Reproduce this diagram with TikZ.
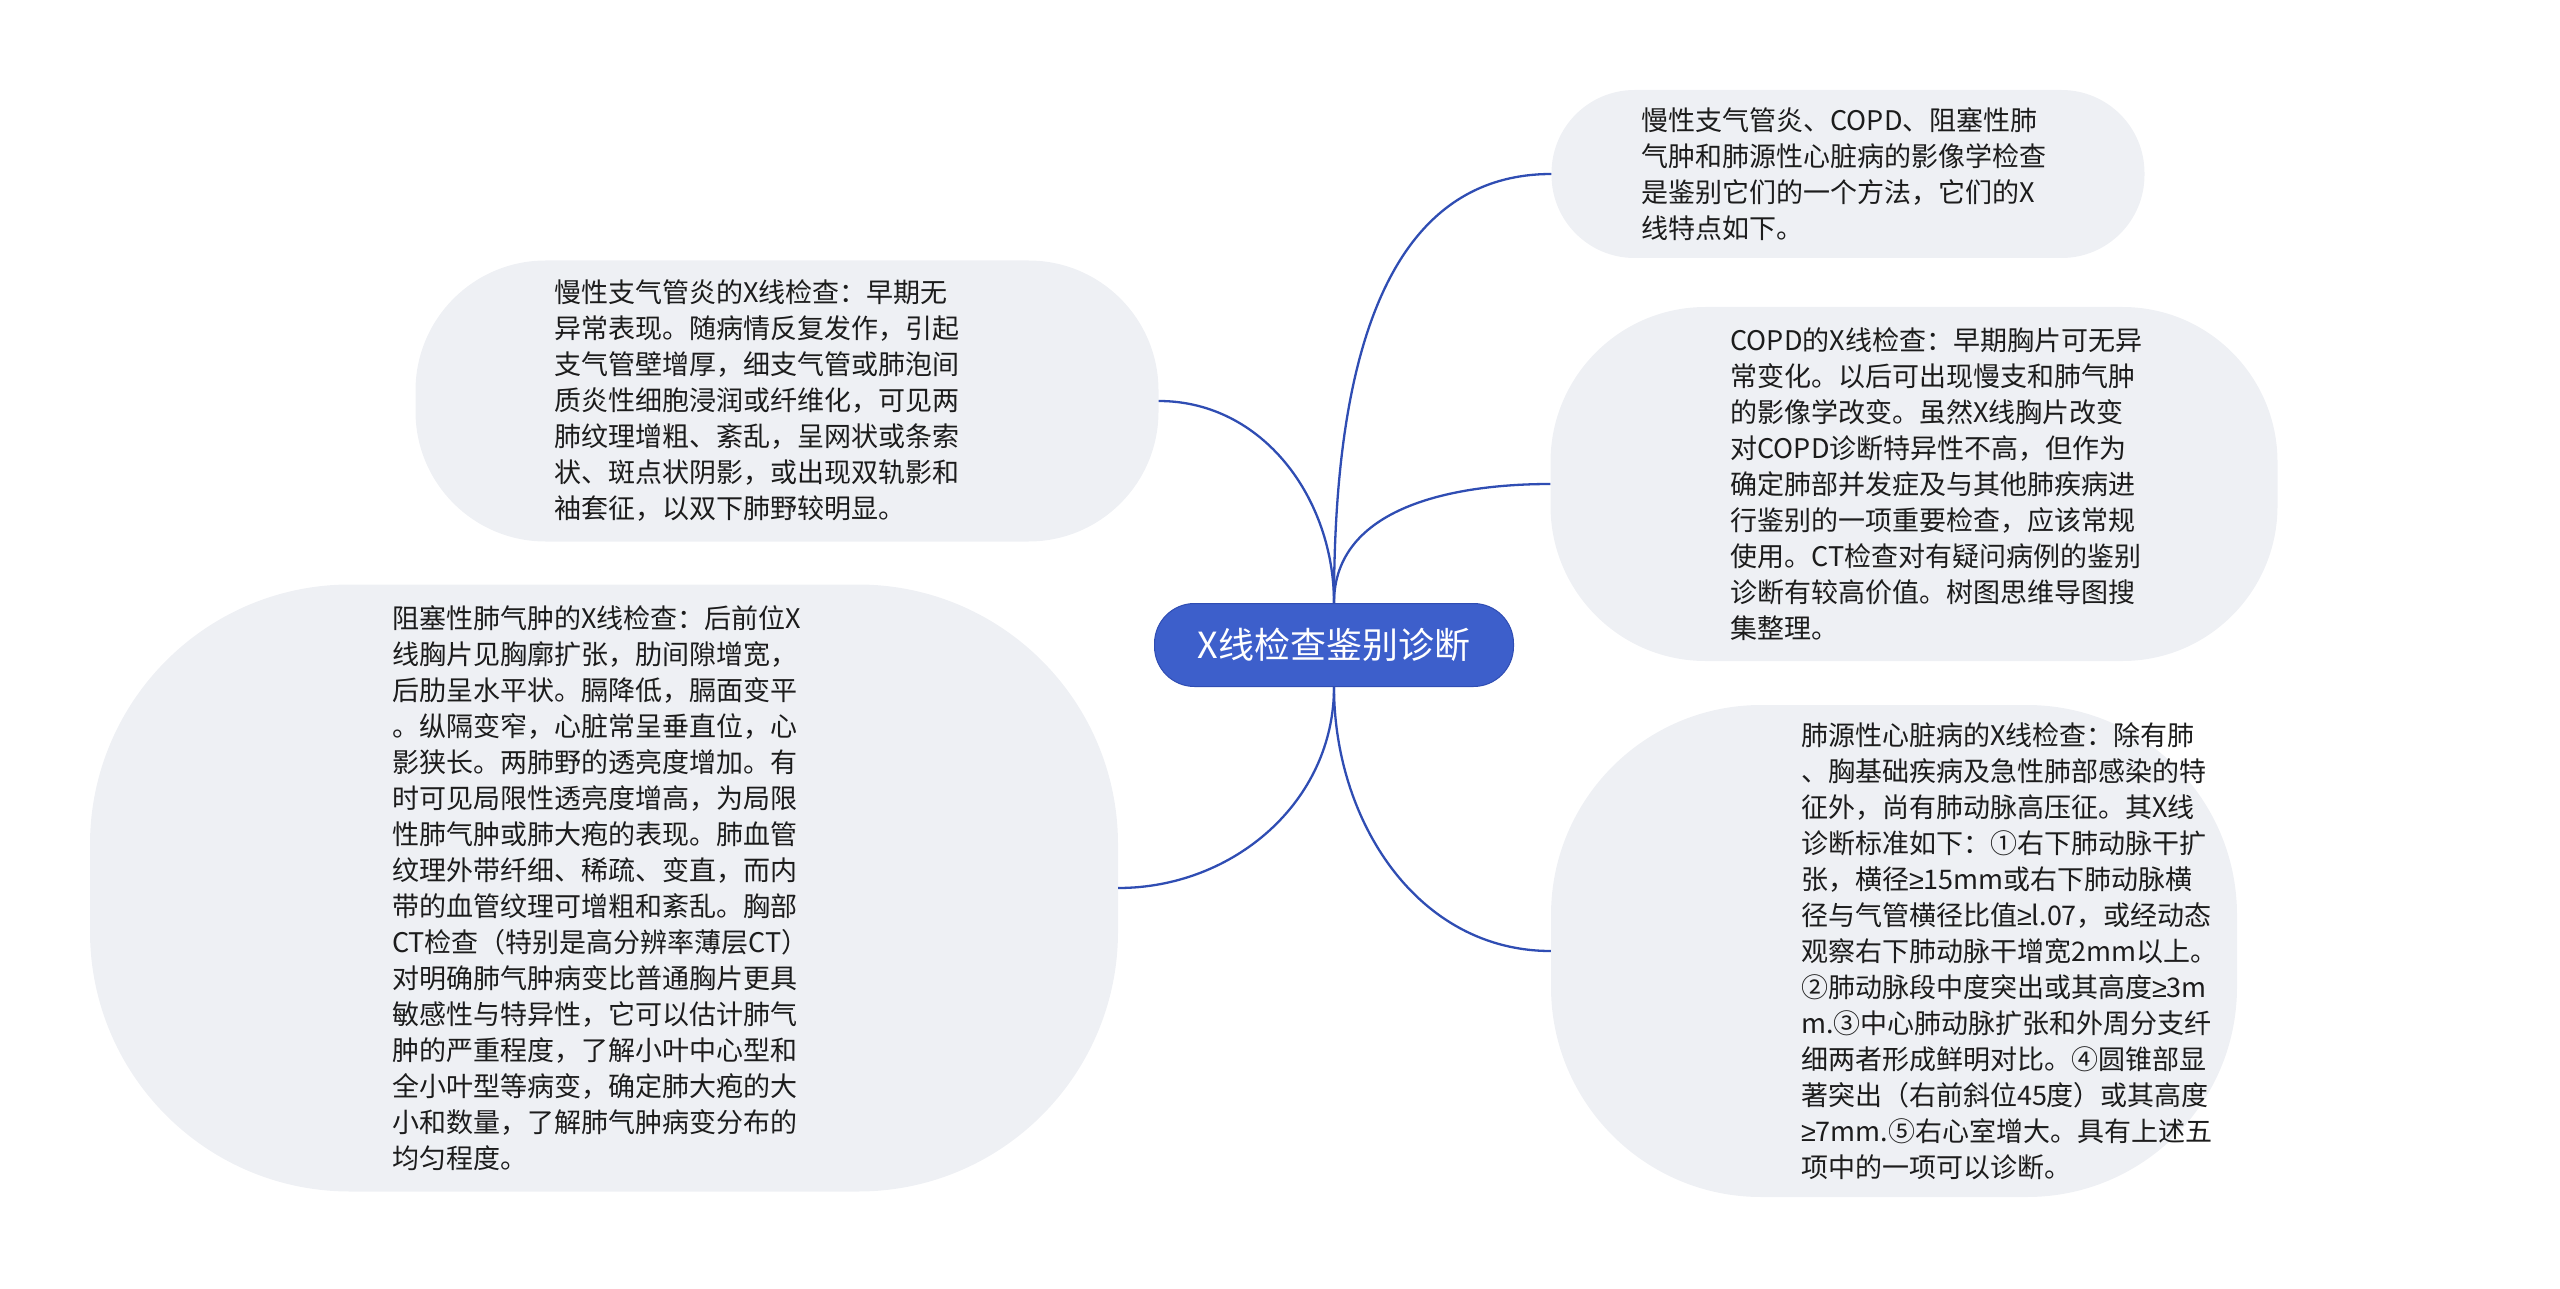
\documentclass[tikz,border=0pt]{standalone}
\usepackage{fontspec}
\setmainfont{Noto Sans CJK SC}
\newfontfamily\geqfont{Liberation Sans}
\newcommand{\geqsign}{{\geqfont ≥}}
\usetikzlibrary{positioning}
\definecolor{rootblue}{HTML}{3D5FCB}
\definecolor{linkblue}{HTML}{2F4DB3}
\definecolor{leafgray}{HTML}{EEF0F4}
\definecolor{inkgray}{HTML}{1C1C1C}

\begin{document}
\begin{tikzpicture}[x=1pt, y=-1pt,
                          rootnode/.style={rectangle, rounded corners=40pt, draw=linkblue, line width=1pt, fill=rootblue, text=white, minimum width=359pt, minimum height=83pt, font=\fontsize{36pt}{40pt}\selectfont},
                          leafbox/.style={rectangle, fill=leafgray, inner sep=0pt},
                          leaftext/.style={align=left, inner sep=0pt, text=inkgray, font=\fontsize{27pt}{36pt}\selectfont},
                          link/.style={draw=linkblue, line width=2.3pt},
                      ]
                      \useasboundingbox (0,0) rectangle (2560,1289);

                      % Boxes
                      \node[leafbox, minimum width=593pt, minimum height=168pt, rounded corners=83pt]  (intro)  at (1848,174)   {};
                      \node[leafbox, minimum width=727pt, minimum height=354pt, rounded corners=155pt] (copd)   at (1914,484)   {};
                      \node[leafbox, minimum width=686pt, minimum height=492pt, rounded corners=210pt] (cor)    at (1894,951)   {};
                      \node[leafbox, minimum width=1028pt, minimum height=607pt, rounded corners=260pt] (emph)  at (604,888)    {};
                      \node[leafbox, minimum width=743pt, minimum height=281pt, rounded corners=130pt] (bronch) at (787,401)    {};

                      % Root
                      \node[rootnode] (root) at (1334,645) {X线检查鉴别诊断};

                      % Texts
                      \node[leaftext, right=90pt of intro.west] (intro_txt) {慢性支气管炎、COPD、阻塞性肺\\
                      气肿和肺源性心脏病的影像学检查\\
                      是鉴别它们的一个方法，它们的X\\
                      线特点如下。};

                      \node[leaftext, right=180pt of copd.west] (copd_txt) {COPD的X线检查：早期胸片可无异\\
                      常变化。以后可出现慢支和肺气肿\\
                      的影像学改变。虽然X线胸片改变\\
                      对COPD诊断特异性不高，但作为\\
                      确定肺部并发症及与其他肺疾病进\\
                      行鉴别的一项重要检查，应该常规\\
                      使用。CT检查对有疑问病例的鉴别\\
                      诊断有较高价值。树图思维导图搜\\
                      集整理。};

                      \node[leaftext, right=250pt of cor.west] (cor_txt) {肺源性心脏病的X线检查：除有肺\\
                      、胸基础疾病及急性肺部感染的特\\
                      征外，尚有肺动脉高压征。其X线\\
                      诊断标准如下：①右下肺动脉干扩\\
                      张，横径\geqsign 15mm或右下肺动脉横\\
                      径与气管横径比值\geqsign l.07，或经动态\\
                      观察右下肺动脉干增宽2mm以上。\\
                      ②肺动脉段中度突出或其高度\geqsign 3m\\
                      m.③中心肺动脉扩张和外周分支纤\\
                      细两者形成鲜明对比。④圆锥部显\\
                      著突出（右前斜位45度）或其高度\\
                      \geqsign 7mm.⑤右心室增大。具有上述五\\
                      项中的一项可以诊断。};

                      \node[leaftext, right=302pt of emph.west] (emph_txt) {阻塞性肺气肿的X线检查：后前位X\\
                      线胸片见胸廓扩张，肋间隙增宽，\\
                      后肋呈水平状。膈降低，膈面变平\\
                      。纵隔变窄，心脏常呈垂直位，心\\
                      影狭长。两肺野的透亮度增加。有\\
                      时可见局限性透亮度增高，为局限\\
                      性肺气肿或肺大疱的表现。肺血管\\
                      纹理外带纤细、稀疏、变直，而内\\
                      带的血管纹理可增粗和紊乱。胸部\\
                      CT检查（特别是高分辨率薄层CT）\\
                      对明确肺气肿病变比普通胸片更具\\
                      敏感性与特异性，它可以估计肺气\\
                      肿的严重程度，了解小叶中心型和\\
                      全小叶型等病变，确定肺大疱的大\\
                      小和数量，了解肺气肿病变分布的\\
                      均匀程度。};

                      \node[leaftext, right=139pt of bronch.west] (bronch_txt) {慢性支气管炎的X线检查：早期无\\
                      异常表现。随病情反复发作，引起\\
                      支气管壁增厚，细支气管或肺泡间\\
                      质炎性细胞浸润或纤维化，可见两\\
                      肺纹理增粗、紊乱，呈网状或条索\\
                      状、斑点状阴影，或出现双轨影和\\
                      袖套征，以双下肺野较明显。};

                      %Lines
                      \draw[link] (root.north) to[out=90, in=180] (intro.west);
                      \draw[link] (root.north) to[out=90, in=180] (copd.west);
                      \draw[link] (root.north) to[out=90, in=0] (bronch.east);
                      \draw[link] (root.south) to[out=-90, in=180] (cor.west);
                      \draw[link] (root.south) to[out=-90, in=0] (emph.east);
                  \end{tikzpicture}
\end{document}
